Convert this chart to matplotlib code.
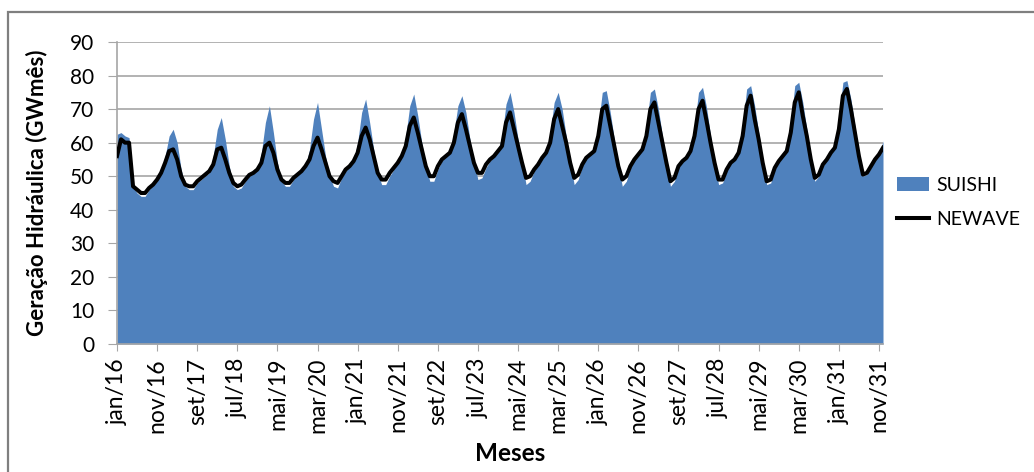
import matplotlib.pyplot as plt
import numpy as np
from matplotlib.patches import Rectangle

# monthly values, jan/16 .. dec/31 (GWmês), one row per year
suishi_by_year = [
    [62.5, 63.0, 62.0, 61.5, 47.0, 45.0, 44.0, 44.0, 46.0, 47.5, 49.0, 51.0],  # 2016
    [56.0, 62.0, 64.0, 60.0, 52.0, 47.0, 46.0, 46.0, 48.0, 49.0, 50.0, 51.0],  # 2017
    [56.0, 64.0, 67.5, 61.0, 53.0, 47.0, 46.0, 46.5, 48.5, 50.0, 51.0, 52.0],  # 2018
    [57.0, 66.0, 71.0, 63.0, 54.0, 48.5, 47.0, 47.0, 49.0, 50.5, 51.5, 53.0],  # 2019
    [58.0, 67.0, 72.0, 64.0, 56.0, 50.0, 47.0, 46.5, 49.5, 51.5, 53.0, 54.5],  # 2020
    [60.0, 69.0, 73.0, 66.0, 58.0, 51.0, 47.5, 47.5, 50.0, 52.0, 54.0, 56.0],  # 2021
    [62.0, 71.0, 74.5, 68.0, 60.0, 53.0, 48.5, 48.5, 52.0, 54.5, 56.0, 57.0],  # 2022
    [63.0, 71.0, 74.0, 69.0, 61.0, 54.0, 49.0, 49.5, 52.5, 54.5, 56.0, 57.5],  # 2023
    [62.0, 71.5, 75.0, 69.0, 61.0, 54.0, 47.5, 48.5, 51.5, 53.5, 55.5, 57.0],  # 2024
    [63.0, 72.0, 75.0, 70.0, 62.0, 54.0, 47.5, 49.0, 53.0, 55.5, 56.5, 57.5],  # 2025
    [65.0, 75.0, 75.5, 69.0, 61.0, 53.0, 47.0, 48.5, 52.5, 55.0, 56.5, 58.0],  # 2026
    [65.0, 75.0, 76.0, 70.0, 62.0, 54.0, 47.0, 48.5, 52.5, 54.5, 55.5, 57.5],  # 2027
    [65.0, 75.0, 76.5, 70.5, 62.0, 54.0, 47.5, 48.0, 51.5, 54.0, 55.0, 57.0],  # 2028
    [65.0, 76.0, 77.0, 71.0, 63.0, 54.0, 47.5, 48.0, 52.0, 54.5, 56.0, 57.5],  # 2029
    [66.0, 77.0, 78.0, 72.0, 64.0, 55.0, 48.5, 50.0, 53.0, 55.0, 57.0, 58.5],  # 2030
    [67.0, 78.0, 78.5, 73.0, 65.0, 56.0, 50.0, 50.5, 52.5, 55.0, 56.5, 60.5],  # 2031
]

newave_by_year = [
    [56.0, 61.0, 60.0, 60.0, 47.0, 46.0, 45.0, 45.0, 46.5, 47.5, 49.0, 51.0],  # 2016
    [54.0, 57.5, 58.0, 55.0, 50.0, 47.5, 47.0, 47.0, 48.5, 49.5, 50.5, 51.5],  # 2017
    [53.5, 58.0, 58.5, 55.0, 51.0, 48.0, 47.0, 47.5, 49.0, 50.4, 51.0, 52.0],  # 2018
    [54.0, 59.0, 60.0, 57.0, 52.0, 49.0, 48.0, 48.0, 49.5, 50.5, 51.5, 53.0],  # 2019
    [55.0, 59.0, 61.5, 58.0, 54.0, 50.0, 48.5, 48.0, 50.0, 52.0, 53.0, 54.5],  # 2020
    [57.0, 62.0, 64.5, 61.0, 56.0, 51.0, 49.0, 49.0, 51.0, 52.5, 54.0, 56.0],  # 2021
    [59.0, 65.0, 67.5, 63.0, 58.0, 53.0, 50.0, 50.0, 53.0, 55.0, 56.0, 57.0],  # 2022
    [60.0, 66.0, 68.5, 64.0, 59.0, 54.0, 51.0, 51.0, 53.5, 55.0, 56.0, 57.5],  # 2023
    [59.0, 66.0, 69.0, 64.0, 59.0, 54.0, 49.5, 50.0, 52.0, 53.5, 55.5, 57.0],  # 2024
    [60.0, 67.0, 70.0, 65.0, 60.0, 54.0, 49.5, 50.5, 53.5, 55.5, 56.5, 57.5],  # 2025
    [62.0, 70.0, 71.0, 65.0, 59.0, 53.0, 49.0, 50.0, 53.0, 55.0, 56.5, 58.0],  # 2026
    [62.0, 70.0, 72.0, 66.0, 60.0, 54.0, 48.5, 49.5, 53.0, 54.5, 55.5, 57.5],  # 2027
    [62.0, 70.0, 72.5, 66.5, 60.0, 54.0, 49.0, 49.0, 52.0, 54.0, 55.0, 57.0],  # 2028
    [62.0, 71.0, 74.0, 67.0, 61.0, 54.0, 48.5, 49.0, 52.5, 54.5, 56.0, 57.5],  # 2029
    [63.0, 72.0, 75.0, 68.0, 62.0, 55.0, 49.5, 50.5, 53.5, 55.0, 57.0, 58.5],  # 2030
    [64.0, 74.0, 76.0, 70.0, 63.0, 56.0, 50.5, 51.0, 53.0, 55.0, 56.5, 58.5],  # 2031
]

month_names = ["jan", "fev", "mar", "abr", "mai", "jun",
               "jul", "ago", "set", "out", "nov", "dez"]
years = list(range(16, 32))

suishi = np.array(suishi_by_year).ravel()
newave = np.array(newave_by_year).ravel()
labels = [f"{m}/{y}" for y in years for m in month_names]
x = np.arange(len(suishi))

plt.rcParams['font.family'] = ['Lato', 'DejaVu Sans']

fig = plt.figure(figsize=(10.34, 4.72), dpi=100)

# outer chart frame (only left/top edges visible in the crop)
fig.patches.append(Rectangle((8 / 1034, -0.2), 1.2, 1.2 - 12 / 472,
                             transform=fig.transFigure, fill=False,
                             edgecolor='#7f7f7f', linewidth=1.6))

ax = fig.add_axes([117 / 1034, 1 - 344 / 472, (883 - 117) / 1034, (344 - 42) / 472])

ax.fill_between(x, suishi, 0, color='#4f81bd', linewidth=0, label='SUISHI', zorder=2)
ax.plot(x, newave, color='black', linewidth=2.9, label='NEWAVE', zorder=3,
        solid_joinstyle='round')

ax.set_xlim(0, len(x) - 1)
ax.set_ylim(0, 90)
ax.set_yticks(range(0, 91, 10))
ax.yaxis.grid(True, color='#a6a6a6', linewidth=1.2, zorder=0)
ax.set_axisbelow(True)

ticks = x[::10]
ax.set_xticks(ticks)
ax.set_xticklabels([labels[i] for i in ticks], rotation=90, fontsize=16.5)
ax.tick_params(axis='y', labelsize=15, length=6.5, color='#a6a6a6', pad=10)
ax.tick_params(axis='x', length=5, color='#a6a6a6', pad=5)

for s in ['top', 'right']:
    ax.spines[s].set_visible(False)
for s in ['left', 'bottom']:
    ax.spines[s].set_color('#a6a6a6')
    ax.spines[s].set_linewidth(1.2)

ax.set_ylabel('Geração Hidráulica (GWmês)', fontsize=16, fontweight='bold')
ax.yaxis.set_label_coords(-0.090, 0.5)
ax.set_xlabel('Meses', fontsize=17.5, fontweight='bold')
ax.xaxis.set_label_coords(0.513, -0.325)

fig.legend(loc='center left', bbox_to_anchor=(897 / 1034, 0.571), frameon=False,
           fontsize=14, handlelength=1.65, handleheight=0.7, labelspacing=0.9,
           handletextpad=0.36, borderaxespad=0, borderpad=0)

fig.savefig('out.png', dpi=100)
